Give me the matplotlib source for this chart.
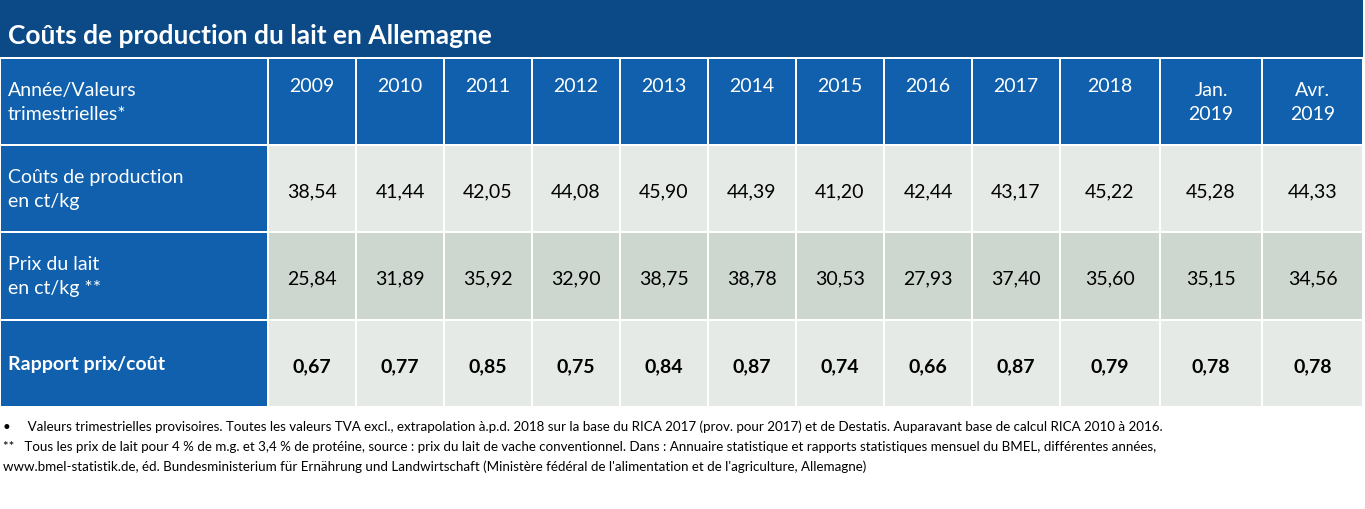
import matplotlib
matplotlib.use("Agg")
import matplotlib.pyplot as plt
from matplotlib.patches import Rectangle

plt.rcParams['font.family'] = ['Lato', 'DejaVu Sans']

title = "Coûts de production du lait en Allemagne"
columns = ["2009", "2010", "2011", "2012", "2013", "2014", "2015", "2016", "2017", "2018", "Jan.\n2019", "Avr.\n2019"]
row_labels = ["Coûts de production\nen ct/kg", "Prix du lait\nen ct/kg **", "Rapport prix/coût"]
couts = ["38,54", "41,44", "42,05", "44,08", "45,90", "44,39", "41,20", "42,44", "43,17", "45,22", "45,28", "44,33"]
prix = ["25,84", "31,89", "35,92", "32,90", "38,75", "38,78", "30,53", "27,93", "37,40", "35,60", "35,15", "34,56"]
rapport = ["0,67", "0,77", "0,85", "0,75", "0,84", "0,87", "0,74", "0,66", "0,87", "0,79", "0,78", "0,78"]
notes = [
    "•     Valeurs trimestrielles provisoires. Toutes les valeurs TVA excl., extrapolation à.p.d. 2018 sur la base du RICA 2017 (prov. pour 2017) et de Destatis. Auparavant base de calcul RICA 2010 à 2016.",
    "**   Tous les prix de lait pour 4 % de m.g. et 3,4 % de protéine, source : prix du lait de vache conventionnel. Dans : Annuaire statistique et rapports statistiques mensuel du BMEL, différentes années,",
    "www.bmel-statistik.de, éd. Bundesministerium für Ernährung und Landwirtschaft (Ministère fédéral de l'alimentation et de l'agriculture, Allemagne)",
]

W, H = 1365, 510
fig = plt.figure(figsize=(W/100, H/100), dpi=100)
ax = fig.add_axes([0, 0, 1, 1])
ax.set_xlim(0, W); ax.set_ylim(H, 0); ax.axis('off')

DARK = "#0b4a87"; BLUE = "#1060ae"; LIGHT = "#e6eae6"; MID = "#cdd7d0"
xb = [0, 268, 356, 444, 532, 620, 708, 796, 884, 972, 1060, 1160, 1262, 1363]
yb = [59, 146, 233, 321, 408]

ax.add_patch(Rectangle((0, 0), 1363, 58, color=DARK, lw=0))
ax.text(8, 36, title, color="white", fontsize=19, fontweight="bold", va="center")

def cell(x0, x1, y0, y1, fc):
    ax.add_patch(Rectangle((x0+1, y0+1), x1-x0-2, y1-y0-2, facecolor=fc, edgecolor="none"))

# header
cell(xb[0], xb[1], yb[0], yb[1], BLUE)
ax.text(8, (yb[0]+yb[1])/2, "Année/Valeurs\ntrimestrielles*", color="white", fontsize=14, va="center", linespacing=1.5)
for i, c in enumerate(columns):
    x0, x1 = xb[i+1], xb[i+2]
    cell(x0, x1, yb[0], yb[1], BLUE)
    if "\n" in c:
        ax.text((x0+x1)/2, (yb[0]+yb[1])/2, c, color="white", fontsize=14, ha="center", va="center", linespacing=1.5)
    else:
        ax.text((x0+x1)/2, 86, c, color="white", fontsize=14, ha="center", va="center")

data = [couts, prix, rapport]
bgs = [LIGHT, MID, LIGHT]
for r in range(3):
    y0, y1 = yb[r+1], yb[r+2]
    cell(xb[0], xb[1], y0, y1, BLUE)
    bold = "bold" if r == 2 else "normal"
    ax.text(8, (y0+y1)/2, row_labels[r], color="white", fontsize=14, va="center", fontweight=bold, linespacing=1.5)
    for i, v in enumerate(data[r]):
        x0, x1 = xb[i+1], xb[i+2]
        cell(x0, x1, y0, y1, bgs[r])
        ax.text((x0+x1)/2, (y0+y1)/2+2, v, color="black", fontsize=14, ha="center", va="center", fontweight=bold)

for j, n in enumerate(notes):
    ax.text(3, 427 + j*20, n, fontsize=9.6, va="center", color="black")

fig.savefig("out.png", dpi=100)
